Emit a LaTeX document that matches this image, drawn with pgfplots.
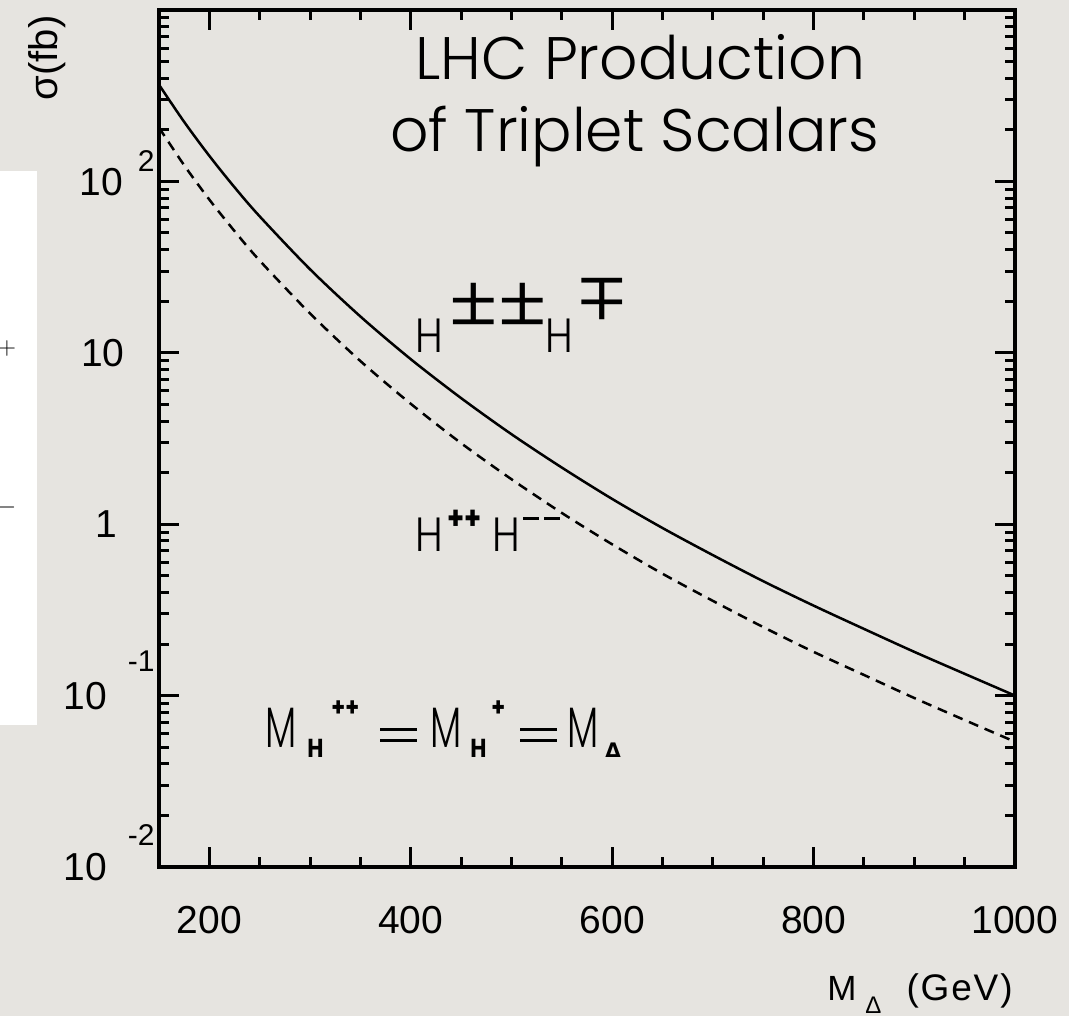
\documentclass[border=0pt]{standalone}
\usepackage{pgfplots}
\pgfplotsset{compat=1.18}
\usepackage{graphicx}
\usepackage{fontspec}
\setmainfont{Liberation Sans}
\newfontfamily\poptitle{Poppins Light}
\newfontfamily\pop[FakeStretch=0.85]{Poppins Light}
\newfontfamily\popB[FakeStretch=0.85]{Poppins}
\newfontfamily\popM[FakeStretch=0.65]{Poppins Light}
\newfontfamily\dv{DejaVu Sans}
\definecolor{bg}{RGB}{230,228,224}

\pgfplotstableread{
x y
150 366.4
175 222.4
200 140.9
225 92.4
250 62.5
300 30.7
350 16.29
400 9.18
450 5.44
500 3.35
550 2.14
600 1.404
650 0.95
700 0.66
750 0.465
800 0.335
850 0.245
900 0.18
950 0.134
1000 0.100
}\pairtable

\pgfplotstableread{
x y
150 206
175 124.2
200 78.3
225 51.3
250 34.5
300 16.96
350 8.95
400 5.04
450 2.97
500 1.83
550 1.163
600 0.763
650 0.514
700 0.357
750 0.251
800 0.180
850 0.132
900 0.0968
950 0.0720
1000 0.0538
}\doubletable

\newcommand{\ex}[3]{10\kern#1\raisebox{#2}{\fontsize{15}{16}\selectfont #3}}
\newcommand{\labH}{\pop\fontsize{24}{28}\selectfont}
\newcommand{\pmf}{\poptitle\fontsize{40}{42}\selectfont}
\newcommand{\smH}{\popB\bfseries\fontsize{13}{14}\selectfont}
\newcommand{\plH}{\popB\bfseries\fontsize{16}{17}\selectfont}
\newcommand{\bigM}{\popM\fontsize{28.5}{32}\selectfont}

\begin{document}
\begin{tikzpicture}
\fill[bg] (-79.5pt,-74.5pt) rectangle (455pt,433.5pt);
\fill[white] (-79.5pt,71pt) rectangle (-61pt,348pt);
\node[font=\fontsize{12}{14}\selectfont\rmfamily] at (-76pt,259pt) {$+$};
\node[font=\fontsize{12}{14}\selectfont\rmfamily] at (-76pt,179.5pt) {$-$};

\begin{axis}[
  at={(0,0)}, anchor=south west,
  width=428pt, height=428.5pt, scale only axis,
  xmin=150, xmax=1000,
  ymode=log, ymin=1e-2, ymax=1e3,
  xtick={200,400,600,800,1000},
  xticklabels={200,400,600,800,1000},
  minor x tick num=3,
  ytick={1e-2,1e-1,1,10,100,1000},
  yticklabels={\ex{10.5pt}{17.5pt}{-2},\ex{10.5pt}{19pt}{-1},1\kern18.5pt,10\kern15pt,\ex{7.5pt}{12pt}{2},{}},
  tick align=inside,
  major tick length=10pt, minor tick length=5pt,
  axis line style={line width=2pt},
  every tick/.style={line width=1.5pt, black},
  ticklabel style={font=\fontsize{19.5}{23}\selectfont},
  xticklabel style={anchor=base, inner sep=0pt, yshift=-33pt},
  yticklabel style={anchor=base east, inner sep=0pt, xshift=-2pt, yshift=-6.9pt},
  clip=true,
]
\addplot[black, line width=1.25pt, smooth] table[x=x,y=y] {\pairtable};
\addplot[black, line width=1.25pt, smooth, dash pattern=on 5pt off 3.5pt] table[x=x,y=y] {\doubletable};
\end{axis}

% title
\node[anchor=base west, inner sep=0pt, font=\poptitle\fontsize{30}{34}\selectfont] at (128pt,393.5pt) {LHC Production};
\node[anchor=base west, inner sep=0pt, font=\poptitle\fontsize{30}{34}\selectfont] at (115.5pt,357.5pt) {of Triplet Scalars};

% H+-+- H-+ label
\node[anchor=base west, inner sep=0pt] at (128pt,257pt) {\labH H};
\node[anchor=base west, inner sep=0pt] at (144pt,266.5pt) {\pmf ±};
\node[anchor=base west, inner sep=0pt] at (168.5pt,266.5pt) {\pmf ±};
\node[anchor=base west, inner sep=0pt] at (193pt,257pt) {\labH H};
\node[anchor=base west, inner sep=0pt] at (208.5pt,273.5pt) {\pmf\rotatebox[origin=c]{180}{±}};

% H++ H-- label
\node[anchor=base west, inner sep=0pt] at (128pt,157.5pt) {\labH H};
\node[anchor=base west, inner sep=0pt] at (144pt,168.5pt) {\plH ++};
\node[anchor=base west, inner sep=0pt] at (166.5pt,157.5pt) {\labH H};
\fill[black] (182pt,173.5pt) rectangle (190pt,175pt);
\fill[black] (192.5pt,173.5pt) rectangle (200.5pt,175pt);

% mass relation
\node[anchor=base west, inner sep=0pt] at (53pt,59.5pt) {\bigM M};
\node[anchor=base west, inner sep=0pt] at (74pt,54.5pt) {\smH H};
\node[anchor=base west, inner sep=0pt] at (86pt,75pt) {\smH ++};
\fill[black] (110.5pt,68pt) rectangle (129pt,69.5pt);
\fill[black] (110.5pt,62.5pt) rectangle (129pt,64pt);
\node[anchor=base west, inner sep=0pt] at (135.5pt,59.5pt) {\bigM M};
\node[anchor=base west, inner sep=0pt] at (155.5pt,54.5pt) {\smH H};
\node[anchor=base west, inner sep=0pt] at (166pt,75pt) {\smH +};
\fill[black] (180.5pt,68pt) rectangle (199pt,69.5pt);
\fill[black] (180.5pt,62.5pt) rectangle (199pt,64pt);
\node[anchor=base west, inner sep=0pt] at (204pt,59.5pt) {\bigM M};
\node[anchor=base west, inner sep=0pt] at (223pt,54.5pt) {\dv\bfseries\fontsize{10}{12}\selectfont Δ};

% x label
\node[anchor=base west, inner sep=0pt] at (334pt,-66.5pt) {\fontsize{17.5}{20}\selectfont M};
\node[anchor=base west, inner sep=0pt] at (353pt,-73pt) {\fontsize{12}{13}\selectfont Δ};
\node[anchor=base east, inner sep=0pt] at (427pt,-66.5pt) {\addfontfeature{LetterSpace=5}\fontsize{18.5}{22}\selectfont (GeV)};

\node[rotate=90, font=\fontsize{20}{24}\selectfont] at (-56pt,404.5pt) {σ(fb)};

\pgfresetboundingbox
\path[use as bounding box] (-79.5pt,-74.5pt) rectangle (455pt,433.5pt);
\end{tikzpicture}
\end{document}
